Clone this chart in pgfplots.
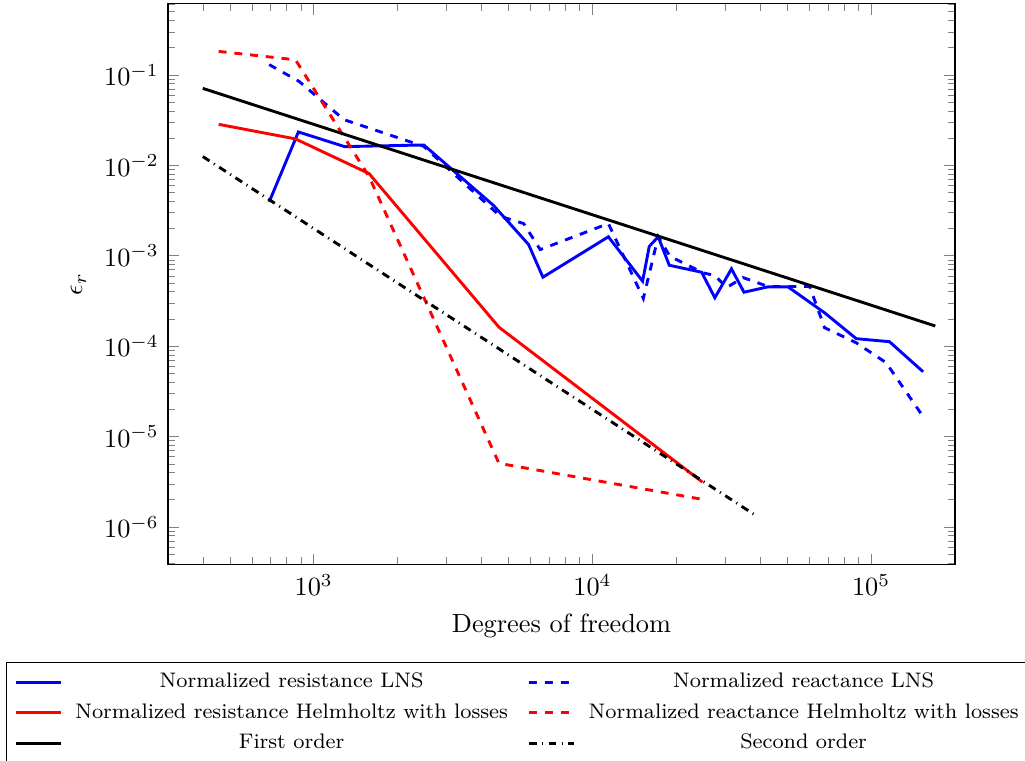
\documentclass[border=0pt]{standalone}
\usepackage{pgfplots}
\pgfplotsset{compat=1.18}
\begin{document}
\begin{tikzpicture}
\begin{loglogaxis}[
 scale only axis,
 width=299.2pt, height=213.3pt,
 xmin=300, xmax=2e5,
 ymin=3.8e-7, ymax=0.61,
 xlabel={Degrees of freedom},
 ylabel={$\epsilon_r$},
 legend columns=2,
 legend cell align=center,
 legend style={at={(-0.206,-0.173)}, anchor=north west, font=\footnotesize,
   column sep=3pt, row sep=0.5pt, /tikz/every even column/.append style={column sep=5.5pt}},
]
\addplot[blue, line width=1.1pt] coordinates {
(692,3.94e-3) (881,0.0234) (1291,0.0161) (2483,0.0168) (4421,3.59e-3) (5902,1.33e-3)
(6643,5.79e-4) (11410,1.62e-3) (15140,5.23e-4) (15996,1.27e-3) (17220,1.62e-3)
(18870,7.85e-4) (24650,6.57e-4) (27500,3.43e-4) (31550,7.16e-4) (34990,3.95e-4)
(42660,4.53e-4) (50310,4.53e-4) (68080,2.34e-4) (88440,1.21e-4) (116400,1.12e-4) (153700,5.21e-5)
};
\addlegendentry{Normalized resistance LNS}
\addplot[blue, dashed, line width=1.1pt] coordinates {
(692,0.130) (886,0.0848) (1284,0.032) (2483,0.0162) (4672,2.73e-3) (5664,2.27e-3)
(6497,1.17e-3) (11410,2.27e-3) (15230,3.37e-4) (17220,1.62e-3) (18970,9.87e-4)
(24940,6.47e-4) (27500,6.04e-4) (30340,4.45e-4) (34700,5.74e-4) (42660,4.57e-4)
(60200,4.57e-4) (68080,1.6e-4) (88440,1.09e-4) (113200,6.56e-5) (153100,1.69e-5)
};
\addlegendentry{Normalized reactance LNS}
\addplot[red, line width=1.1pt] coordinates {
(456,0.0284) (860,0.0196) (1580,0.0081) (4620,1.62e-4) (24800,3.14e-6)
};
\addlegendentry{Normalized resistance Helmholtz with losses}
\addplot[red, dashed, line width=1.1pt] coordinates {
(456,0.182) (860,0.147) (1580,0.0075) (4620,5.06e-6) (24800,2.02e-6)
};
\addlegendentry{Normalized reactance Helmholtz with losses}
\addplot[black, line width=1.1pt] coordinates {
(400,0.071) (170000,1.67e-4)
};
\addlegendentry{First order}
\addplot[black, dash dot, line width=1.1pt] coordinates {
(400,0.0125) (39000,1.31e-6)
};
\addlegendentry{Second order}
\coordinate (bl) at (rel axis cs:-0.2135,-0.348);
\coordinate (tr) at (rel axis cs:1.089,1.007);
\end{loglogaxis}
\pgfresetboundingbox
\useasboundingbox (bl) rectangle (tr);
\end{tikzpicture}
\end{document}
